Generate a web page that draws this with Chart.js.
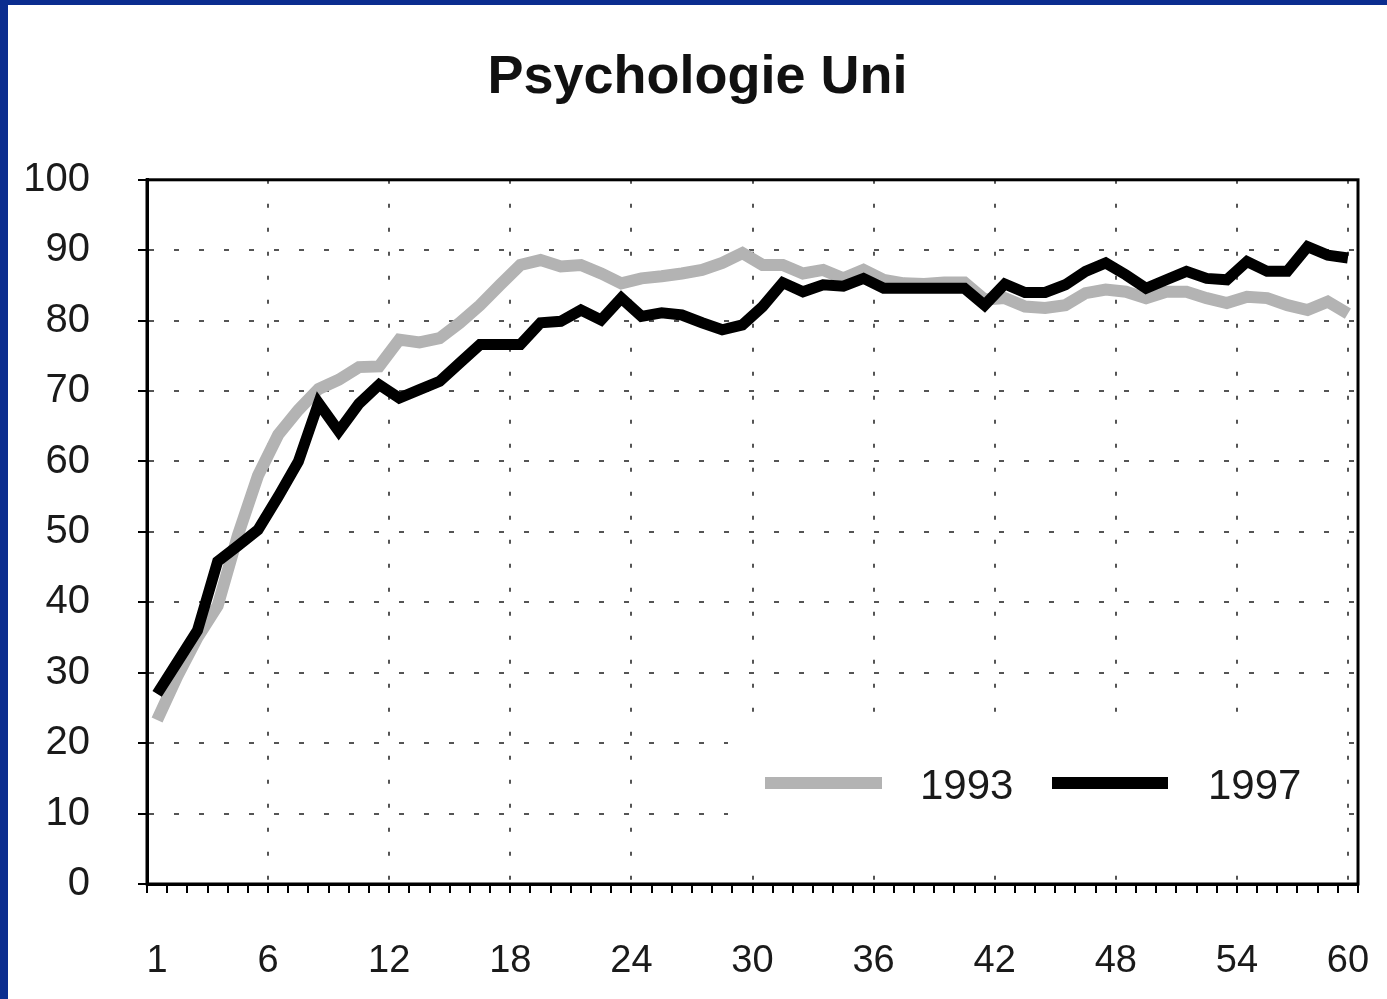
<!DOCTYPE html>
<html>
<head>
<meta charset="utf-8">
<title>Psychologie Uni</title>
<script src="https://cdn.jsdelivr.net/npm/chart.js@4.4.1/dist/chart.umd.min.js"></script>
<style>
	html, body { margin: 0; padding: 0; background: #0b2d8f; overflow: hidden; }
	#chart-outer { position: absolute; left: 8px; top: 5px; width: 1379px; height: 994px; background: #fff; }
</style>
</head>
<body>
<div id="chart-outer"><canvas id="psy-chart"></canvas></div>
<script>
/** Data **/
const weeks = [];
for( let i = 1; i <= 60; i++ ){ weeks.push( i ); }
const xTickLabels = [1, 6, 12, 18, 24, 30, 36, 42, 48, 54, 60];
const yTickLabels = [0, 10, 20, 30, 40, 50, 60, 70, 80, 90, 100];
const seriesNames = ['1993', '1997'];
const values1993 = [23.3, 29.5, 35, 39.5, 49.5, 58, 63.8, 67.3, 70.3, 71.6, 73.4, 73.5, 77.3, 76.9, 77.5, 79.7, 82.2, 85.1, 87.9, 88.6,
	87.7, 87.9, 86.7, 85.3, 86, 86.3, 86.7, 87.2, 88.2, 89.6, 87.9, 87.9, 86.7, 87.2, 86, 87.2, 85.8, 85.3, 85.2, 85.4,
	85.4, 83, 83.2, 82, 81.8, 82.2, 83.9, 84.4, 84.1, 83.2, 84.1, 84.1, 83.2, 82.5, 83.4, 83.2, 82.2, 81.5, 82.7, 81];
const values1997 = [27, 31.5, 36, 45.8, 48, 50.3, 55, 60, 68.3, 64.3, 68.2, 70.9, 69, 70.2, 71.4, 74, 76.6, 76.6, 76.6, 79.7,
	79.9, 81.5, 80.1, 83.2, 80.6, 81.1, 80.8, 79.7, 78.7, 79.4, 82, 85.4, 84.1, 85.1, 84.9, 86, 84.6, 84.6, 84.6, 84.6,
	84.6, 82.2, 85.2, 84, 84, 85.1, 87, 88.2, 86.5, 84.6, 85.8, 87, 86, 85.8, 88.4, 87, 87, 90.5, 89.3, 88.9];

const FONT = "'Liberation Sans', Arial, sans-serif";
const colors = ['#b3b3b3', '#000000'];

function toPoints( values ){
	return values.map(function( v, i ){ return { x: weeks[i], y: v }; });
}

/** Frame, small ticks under the x axis and the legend box inside the plot **/
const framePlugin = {
	id: 'frame',
	beforeDatasetsDraw: function( chart ){
		const ctx = chart.ctx, ca = chart.chartArea, xs = chart.scales.x;
		ctx.save();
		// legend box (white, hides the grid)
		const bx = ca.right - 630, by = ca.bottom - 172, bw = 612, bh = 146;
		ctx.fillStyle = '#fff';
		ctx.fillRect( bx, by, bw, bh );
		const ly = ca.bottom - 101;
		ctx.lineWidth = 12;
		ctx.lineCap = 'butt';
		ctx.font = '42px ' + FONT;
		ctx.textBaseline = 'middle';
		ctx.fillStyle = '#1a1a1a';
		[[37, 154, 192], [324, 440, 480]].forEach(function( pos, i ){
			ctx.strokeStyle = colors[i];
			ctx.beginPath();
			ctx.moveTo( bx + pos[0], ly );
			ctx.lineTo( bx + pos[1], ly );
			ctx.stroke();
			ctx.fillText( seriesNames[i], bx + pos[2], ly + 4 );
		});
		// minor ticks on every category boundary
		ctx.strokeStyle = '#000';
		ctx.lineWidth = 2;
		ctx.beginPath();
		for( let i = 0; i <= weeks.length; i++ ){
			const px = Math.round( xs.getPixelForValue( i + 0.5 ) );
			ctx.moveTo( px, ca.bottom );
			ctx.lineTo( px, ca.bottom + 9 );
		}
		ctx.stroke();
		ctx.restore();
	},
	afterDatasetsDraw: function( chart ){
		const ctx = chart.ctx, ca = chart.chartArea;
		ctx.save();
		ctx.strokeStyle = '#000';
		ctx.lineWidth = 3;
		ctx.strokeRect( ca.left, ca.top, ca.right - ca.left, ca.bottom - ca.top );
		ctx.restore();
	}
};

const data = {
	datasets: [{
		label: seriesNames[0],
		data: toPoints( values1993 ),
		borderColor: colors[0],
		borderWidth: 12,
		pointRadius: 0,
		borderJoinStyle: 'miter',
		order: 2
	},{
		label: seriesNames[1],
		data: toPoints( values1997 ),
		borderColor: colors[1],
		borderWidth: 11,
		pointRadius: 0,
		borderJoinStyle: 'miter',
		order: 1
	}]
};

const config = {
	type: 'line',
	data: data,
	options: {
		responsive: true,
		maintainAspectRatio: false,
		animation: false,
		layout: { padding: 0 },
		plugins: {
			legend: { display: false },
			tooltip: { enabled: false },
			title: {
				display: true,
				text: 'Psychologie Uni',
				color: '#111',
				font: { family: FONT, size: 54, weight: 'bold' },
				padding: { top: 41, bottom: 69 }
			}
		},
		scales: {
			x: {
				type: 'linear',
				min: 0.5,
				max: 60.5,
				afterFit: function( scale ){
					// keeps the title centred on the whole canvas, plot stops 29px short of the right
					scale.height = 115;
					scale.paddingLeft = 0;
					scale.paddingRight = 29;
				},
				afterBuildTicks: function( scale ){
					// labels sit on the boundaries, the two end ones on the category
					scale.ticks = xTickLabels.map(function( l ){
						return { value: ( l === 1 || l === 60 ) ? l : l + 0.5, label: String( l ) };
					});
				},
				ticks: {
					autoSkip: false,
					maxRotation: 0,
					padding: 55,
					color: '#1a1a1a',
					font: { family: FONT, size: 38 },
					callback: function( value, index ){ return String( xTickLabels[index] ); }
				},
				grid: {
					drawTicks: false,
					color: function( c ){ return c.tick && c.tick.value === 1 ? 'rgba(0,0,0,0)' : '#555'; },
					lineWidth: 2
				},
				border: { display: true, color: '#000', width: 3, dash: [4, 20] }
			},
			y: {
				min: 0,
				max: 100,
				afterFit: function( scale ){ scale.width = 139; },
				afterBuildTicks: function( scale ){
					scale.ticks = yTickLabels.map(function( v ){ return { value: v }; });
				},
				ticks: {
					padding: 48,
					color: '#1a1a1a',
					font: { family: FONT, size: 40 }
				},
				grid: {
					color: function( c ){ return c.tick && ( c.tick.value === 0 || c.tick.value === 100 ) ? 'rgba(0,0,0,0)' : '#555'; },
					lineWidth: 2,
					tickColor: '#000',
					tickLength: 9,
					tickWidth: 2,
					tickBorderDash: []
				},
				border: { display: true, color: '#000', width: 3, dash: [5, 20] }
			}
		}
	},
	plugins: [framePlugin]
};

new Chart( document.getElementById('psy-chart'), config );
</script>
</body>
</html>
